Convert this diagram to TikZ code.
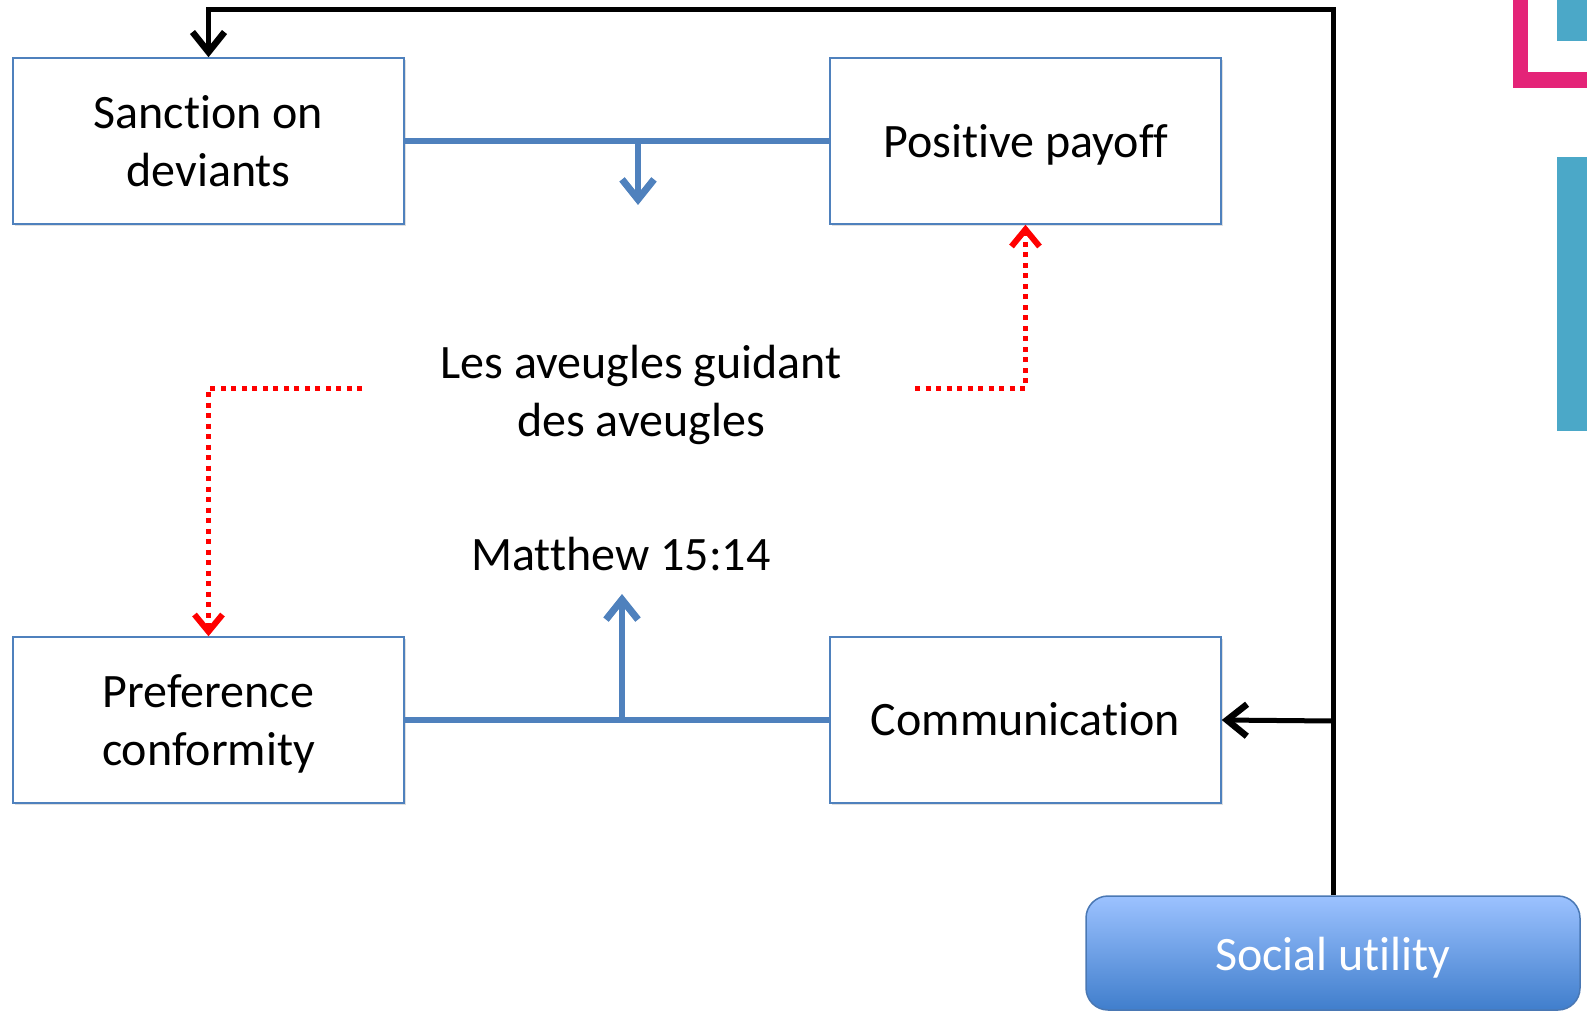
\documentclass[tikz,border=0pt]{standalone}
\usepackage{fontspec}
\setmainfont{Carlito}[Ligatures=NoCommon]
\usetikzlibrary{arrows.meta,shadows}
\definecolor{boxblue}{RGB}{79,129,189}
\definecolor{sutop}{RGB}{156,194,255}
\definecolor{subot}{RGB}{64,126,204}
\definecolor{suedge}{RGB}{74,120,180}
\definecolor{pinkd}{RGB}{228,36,120}
\definecolor{tealb}{RGB}{75,168,200}
\tikzset{
  txt/.style={align=center, inner sep=0pt, font=\fontsize{48}{58}\selectfont, text height=40pt, text depth=10pt},
  txttwo/.style={text height=101pt, text depth=10pt},
  txtlow/.style={text height=44pt},
  box/.style={txt, draw=boxblue, line width=1.5pt, fill=white, minimum width=391pt, minimum height=166pt,
    drop shadow={opacity=0.25, shadow xshift=2pt, shadow yshift=-2pt}},
  sutil/.style={txt, draw=suedge, line width=1.5pt, rounded corners=22pt, top color=sutop, bottom color=subot,
    minimum width=494pt, minimum height=114pt, text=white},
  blk/.style={draw=black, line width=5pt},
  blkarrow/.style={blk, -{Straight Barb[length=20pt,width=32pt,line width=6.5pt]}},
  blu/.style={draw=boxblue, line width=6pt},
  bluarrow/.style={blu, -{Straight Barb[length=20pt,width=32pt,line width=7pt]}},
  reddot/.style={draw=red, line width=5pt, dash pattern=on 5pt off 5.5pt, -{Straight Barb[length=17pt,width=28pt,line width=6pt]}},
}
\begin{document}
\begin{tikzpicture}[x=1pt,y=-1pt]
\useasboundingbox (0,0) rectangle (1587,1011);
% decorations at right edge
\fill[pinkd] (1513,0) rectangle (1528,88);
\fill[pinkd] (1513,72) rectangle (1587,88);
\fill[tealb] (1557,0) rectangle (1587,41);
\fill[tealb] (1557,157) rectangle (1587,431);

% boxes
\node[box, txttwo] (san) at (208.5,141) {Sanction on\\deviants};
\node[box, txtlow] (pay) at (1025.5,141) {Positive payoff};
\node[box, txttwo] (pref) at (208.5,720) {Preference\\conformity};
\node[box] (com) at (1025.5,720) {Communication};
\node[sutil, txtlow] (su) at (1333,953) {Social utility};

% texts
\node[txt, txttwo] (les) at (641,391) {Les aveugles guidant\\des aveugles};
\node[txt] (mat) at (621,555) {Matthew 15:14};

% black connectors
\coordinate (tr) at (1333,10);
\coordinate (jc) at (1333,721);
\draw[blkarrow] (su.north) -- (tr) -| (san.north);
\draw[blkarrow] (jc) -- (com.east);

% blue connectors
\draw[blu] (san.east) -- (pay.west);
\coordinate (tj) at (638,141);
\coordinate (ta) at (638,205);
\draw[bluarrow] (tj) -- (ta);
\draw[blu] (pref.east) -- (com.west);
\coordinate (bj) at (622,721);
\coordinate (ba) at (622,594);
\draw[bluarrow] (bj) -- (ba);

% red dotted connectors
\coordinate (rl) at (362,388);
\coordinate (rr) at (915,388);
\draw[reddot] (rl) -| (pref.north);
\draw[reddot] (rr) -| (pay.south);
\end{tikzpicture}
\end{document}
